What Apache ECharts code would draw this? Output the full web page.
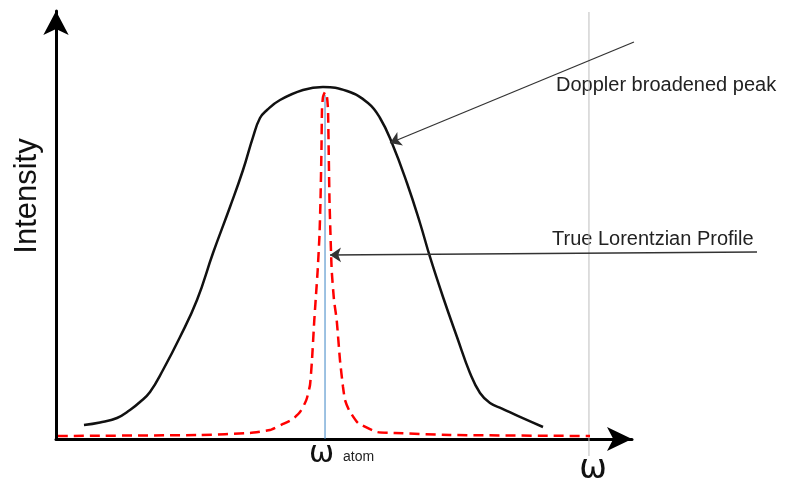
<!DOCTYPE html>
<html>
<head>
<meta charset="utf-8">
<script src="https://cdn.jsdelivr.net/npm/echarts@6/dist/echarts.min.js"></script>
<style>html,body{margin:0;padding:0;background:#fff}#c{width:785px;height:482px}</style>
</head>
<body>
<div id="c"></div>
<script>
// Doppler broadened peak (black solid): x = frequency (arb.), y = intensity (arb.)
const dopplerX = [4.96, 7.80, 10.82, 13.12, 14.89, 16.67, 18.97, 21.99, 25.00, 27.84, 30.85, 33.16, 34.93, 36.17, 37.41, 39.72, 43.79, 47.34, 51.60, 55.32, 57.45, 59.57, 62.23, 64.54, 66.31, 68.62, 71.10, 73.40, 75.18, 76.95, 79.08, 82.27, 86.35];
const dopplerY = [3.36, 3.96, 5.04, 6.95, 8.87, 11.27, 16.55, 24.46, 33.33, 44.60, 55.64, 64.51, 72.42, 76.98, 78.90, 81.29, 83.69, 84.41, 83.45, 80.58, 76.98, 70.98, 61.39, 51.80, 43.65, 34.05, 24.46, 15.83, 11.03, 8.63, 7.31, 5.28, 2.88];
// True Lorentzian profile (red dashed)
const lorentzX = [0.35, 25.53, 34.40, 37.94, 40.25, 42.02, 43.26, 44.15, 44.50, 45.04, 45.39, 45.80, 46.10, 46.40, 46.72, 46.90, 47.07, 47.16, 47.34, 47.70, 48.05, 48.23, 48.35, 48.49, 48.67, 48.88, 49.29, 49.77, 50.35, 50.89, 51.24, 51.95, 53.55, 56.91, 60.11, 69.86, 94.68];
const lorentzY = [0.72, 0.96, 1.44, 2.16, 3.60, 4.80, 6.47, 8.63, 9.83, 12.95, 18.94, 28.54, 34.53, 40.53, 48.92, 57.31, 69.30, 78.90, 82.01, 83.21, 82.01, 78.90, 69.30, 57.31, 48.92, 40.53, 33.33, 28.54, 18.94, 12.47, 9.35, 6.95, 3.84, 1.68, 1.44, 0.96, 0.72];
// omega_atom marker line and right reference line
const omegaAtom = 47.70;
const omegaAtomTop = 82.49;
const refLineX = 94.50;
const refLineY = [-4.08, 102.4];
const faintLineX = -3.72;
// annotation arrows: [start, end]
const dopplerArrow = [[102.48, 95.2], [59.22, 70.98]];
const lorentzArrow = [[124.29, 44.84], [48.58, 44.12]];
const labels = { doppler: 'Doppler broadened peak', lorentz: 'True Lorentzian Profile', yName: 'Intensity', xName: 'ω', atomSym: 'ω', atomSub: 'atom' };

const zip = (a, b) => a.map((v, i) => [v, b[i]]);
const chart = echarts.init(document.getElementById('c'), null, { renderer: 'canvas' });
const FONT = 'Liberation Sans, Arial, sans-serif';
const GFONT = '"DejaVu Sans", sans-serif';
chart.setOption({
  animation: false,
  backgroundColor: '#fff',
  grid: { left: 56, right: 153, top: 11, bottom: 43 },
  xAxis: {
    type: 'value', min: 0, max: 102.13,
    axisLine: { show: true, symbol: ['none', 'arrow'], symbolSize: [18, 25], lineStyle: { color: '#000', width: 3 } },
    axisTick: { show: false }, axisLabel: { show: false }, splitLine: { show: false }
  },
  yAxis: {
    type: 'value', min: 0, max: 102.64,
    axisLine: { show: true, symbol: ['none', 'arrow'], symbolSize: [19, 24], lineStyle: { color: '#000', width: 3 } },
    axisTick: { show: false }, axisLabel: { show: false }, splitLine: { show: false }
  },
  series: [
    { type: 'line', data: [[faintLineX, refLineY[0]], [faintLineX, refLineY[1]]], symbol: 'none', clip: false, lineStyle: { color: '#f0f0f0', width: 1 }, z: 1 },
    { type: 'line', data: [[refLineX, refLineY[0]], [refLineX, refLineY[1]]], symbol: 'none', clip: false, lineStyle: { color: '#bdbdbd', width: 1 }, z: 1 },
    { type: 'line', data: [[omegaAtom, 0], [omegaAtom, omegaAtomTop]], symbol: 'none', lineStyle: { color: '#3d85c6', width: 1 }, z: 2 },
    { type: 'line', data: zip(dopplerX, dopplerY), symbol: 'none', smooth: 0.45, lineStyle: { color: '#111', width: 2.5 }, z: 3 },
    { type: 'line', data: zip(lorentzX, lorentzY), symbol: 'none', smooth: 0.15, clip: false, lineStyle: { color: '#ff0000', width: 2.5, type: [10, 6] }, z: 4 },
    { type: 'lines', coordinateSystem: 'cartesian2d', clip: false, symbol: ['none', 'arrow'], symbolSize: 11,
      lineStyle: { color: '#333', width: 1.3, opacity: 1, curveness: 0 },
      data: [{ coords: dopplerArrow }, { coords: lorentzArrow }], z: 5 }
  ],
  graphic: [
    { type: 'text', left: 556, top: 75, style: { text: labels.doppler, font: '20px ' + FONT, fill: '#222' } },
    { type: 'text', left: 552, top: 229, style: { text: labels.lorentz, font: '20px ' + FONT, fill: '#222' } },
    { type: 'text', x: 27, y: 196, rotation: Math.PI / 2, style: { text: labels.yName, font: '31px ' + FONT, fill: '#111', align: 'center', verticalAlign: 'middle' } },
    { type: 'text', x: 593, y: 469, style: { text: labels.xName, font: '33px ' + GFONT, fill: '#111', align: 'center', verticalAlign: 'middle' } },
    { type: 'text', x: 321.5, y: 454, style: { text: labels.atomSym, font: '30px ' + GFONT, fill: '#111', align: 'center', verticalAlign: 'middle' } },
    { type: 'text', x: 343, y: 457, style: { text: labels.atomSub, font: '14px ' + FONT, fill: '#222', align: 'left', verticalAlign: 'middle' } }
  ]
});
</script>
</body>
</html>
